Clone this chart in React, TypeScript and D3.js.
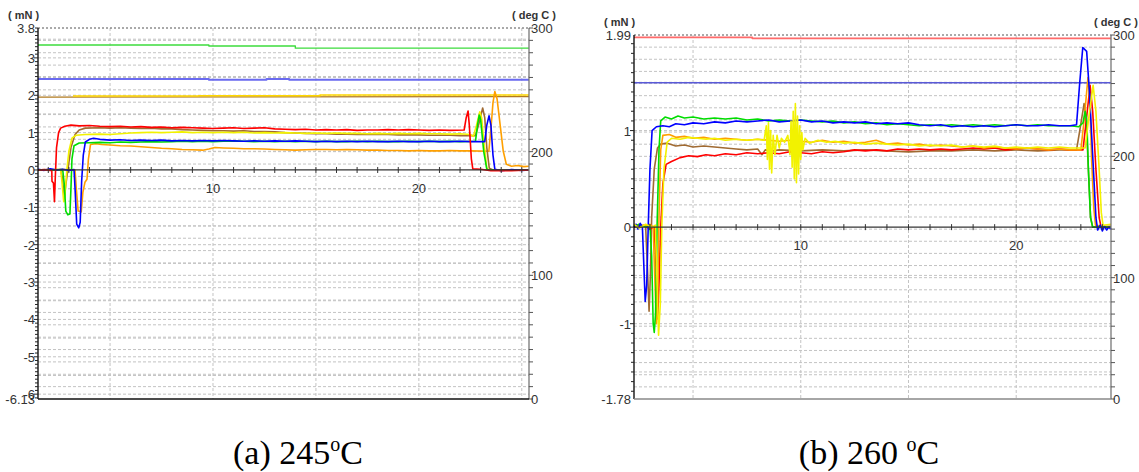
import React from 'react';
import * as d3 from 'd3';

// force traces, [time (s), force (mN)]
const aRed = [[1.5,0],[1.8,0.01],[2.1,-0.01],[2.17,-0.02],[2.18,-0.3],[2.25,-0.35],[2.3,-0.85],[2.34,-0.2],[2.4,0.6],[2.5,1.0],[2.6,1.12],[2.8,1.17],[3.1,1.2],[3.5,1.18],[4,1.19],[4.5,1.17],[5,1.16],[5.5,1.17],[6,1.15],[6.5,1.16],[7,1.14],[7.5,1.15],[8,1.13],[8.5,1.14],[9,1.13],[9.5,1.12],[10,1.11],[10.5,1.12],[11,1.13],[11.5,1.11],[12,1.12],[12.5,1.13],[13,1.1],[13.5,1.09],[14,1.08],[14.5,1.09],[15,1.07],[15.5,1.08],[16,1.07],[16.5,1.08],[17,1.06],[17.5,1.07],[18,1.07],[18.5,1.08],[19,1.07],[19.5,1.08],[20,1.07],[20.5,1.06],[21,1.07],[21.5,1.06],[22.2,1.07],[22.3,1.4],[22.39,1.58],[22.45,1.2],[22.55,0.3],[22.62,0.03],[23,0.02],[23.5,-0.02],[24,-0.01],[24.5,-0.02],[25.35,0]];
const aBrown = [[1.5,0],[2,0.01],[2.6,0],[2.68,-0.2],[2.78,-0.75],[2.85,-0.4],[2.95,0],[3.1,0.6],[3.3,0.95],[3.5,1.07],[3.8,1.12],[4.5,1.13],[5,1.12],[5.5,1.13],[6,1.12],[6.5,1.11],[7,1.12],[7.5,1.1],[8,1.1],[8.5,1.08],[9,1.07],[9.5,1.06],[10,1.05],[10.5,1.05],[11,1.04],[11.5,1.05],[12,1.03],[12.5,1.03],[13,1.02],[13.5,1.0],[14,0.99],[14.5,0.98],[15,0.97],[15.5,0.97],[16,0.96],[16.5,0.96],[17,0.95],[17.5,0.96],[18,0.95],[18.5,0.95],[19,0.94],[19.5,0.94],[20,0.94],[20.5,0.93],[21,0.93],[21.5,0.93],[22,0.92],[22.75,0.92],[22.9,1.2],[23.1,1.66],[23.2,1.4],[23.3,0.6],[23.42,0.05],[23.6,0],[25.35,0]];
const aYellow = [[1.5,0],[2.6,0.01],[2.66,-0.3],[2.75,-0.85],[2.82,-0.6],[2.9,0],[3.0,0.5],[3.15,0.85],[3.35,0.93],[3.8,0.95],[4.5,0.96],[5,0.95],[5.5,0.97],[6,0.99],[6.5,1.0],[7,1.01],[7.5,1.0],[8,1.01],[8.5,1.02],[9,1.0],[9.5,1.01],[10,1.0],[10.5,1.01],[11,1.0],[11.5,1.01],[12,0.99],[12.5,1.0],[13,0.99],[13.5,1.0],[14,0.99],[14.5,0.98],[15,0.99],[15.5,0.98],[16,0.99],[16.5,0.98],[17,0.98],[17.5,0.97],[18,0.98],[18.5,0.97],[19,0.98],[19.5,0.97],[20,0.98],[20.5,0.97],[21,0.97],[21.5,0.96],[22,0.97],[22.5,0.95],[22.65,0.9],[22.8,1.2],[22.96,1.56],[23.05,1.4],[23.15,0.8],[23.3,0.05],[23.4,0],[25.35,0]];
const aGreen = [[1.5,0],[2.7,0.01],[2.78,-0.4],[2.85,-1.1],[2.95,-1.2],[3.05,-1.18],[3.1,-0.5],[3.15,0.3],[3.25,0.65],[3.5,0.72],[4,0.73],[4.5,0.74],[5,0.73],[5.5,0.75],[6,0.74],[6.5,0.75],[7,0.76],[7.5,0.75],[8,0.76],[8.5,0.77],[9,0.76],[9.5,0.77],[10,0.76],[10.5,0.77],[11,0.78],[11.5,0.77],[12,0.76],[12.5,0.77],[13,0.76],[13.5,0.77],[14,0.76],[14.5,0.77],[15,0.76],[15.5,0.77],[16,0.76],[16.5,0.76],[17,0.77],[17.5,0.76],[18,0.77],[18.5,0.76],[19,0.76],[19.5,0.77],[20,0.76],[20.5,0.77],[21,0.76],[21.5,0.77],[22,0.76],[22.75,0.77],[22.85,1.2],[22.93,1.47],[23.0,1.35],[23.15,0.5],[23.3,0.02],[23.4,0],[25.35,0]];
const aBlue = [[1.5,0.02],[1.8,-0.01],[2.1,0.03],[2.4,0.0],[2.7,0.02],[3.0,-0.01],[3.25,0.01],[3.3,-0.5],[3.38,-1.45],[3.48,-1.55],[3.55,-1.4],[3.62,-0.3],[3.7,0.4],[3.8,0.75],[4.0,0.82],[4.2,0.85],[4.5,0.82],[5,0.8],[5.5,0.81],[6,0.79],[6.5,0.8],[7,0.79],[7.5,0.8],[8,0.78],[8.5,0.79],[9,0.78],[9.5,0.79],[10,0.78],[10.5,0.79],[11,0.78],[11.5,0.77],[12,0.78],[12.5,0.77],[13,0.78],[13.5,0.77],[14,0.78],[14.5,0.77],[15,0.76],[15.5,0.77],[16,0.76],[16.5,0.77],[17,0.76],[17.5,0.77],[18,0.76],[18.5,0.76],[19,0.77],[19.5,0.76],[20,0.76],[20.5,0.77],[21,0.76],[21.5,0.76],[22,0.77],[22.5,0.76],[23.2,0.76],[23.3,1.2],[23.41,1.45],[23.5,1.2],[23.6,0.4],[23.69,0.02],[24,-0.02],[24.5,0.01],[25,-0.01],[25.35,0]];
const aOrange = [[1.5,0],[3.0,0.01],[3.3,0],[3.36,-0.5],[3.45,-1.1],[3.6,-1.12],[3.68,-0.6],[3.78,-0.33],[3.88,-0.25],[3.95,0.3],[4.05,0.68],[4.3,0.7],[4.6,0.68],[5,0.67],[5.5,0.65],[6,0.64],[6.5,0.62],[7,0.6],[7.5,0.58],[8,0.57],[8.5,0.55],[9,0.54],[9.5,0.53],[9.8,0.56],[10.1,0.6],[10.5,0.59],[11,0.58],[11.5,0.57],[12,0.57],[12.5,0.56],[13,0.55],[13.5,0.54],[14,0.53],[14.5,0.54],[15,0.55],[15.5,0.55],[16,0.54],[16.5,0.55],[17,0.54],[17.5,0.53],[18,0.53],[18.5,0.52],[19,0.52],[19.5,0.51],[20,0.52],[20.5,0.51],[21,0.51],[21.5,0.52],[22,0.51],[22.5,0.51],[23.4,0.5],[23.5,1.1],[23.6,1.8],[23.69,2.1],[23.8,1.9],[23.95,1.2],[24.1,0.5],[24.25,0.15],[24.5,0.1],[24.8,0.12],[25.1,0.09],[25.35,0.1]];

// temperature traces, [time (s), deg C]
const aTempGreen = [[1.5,286.2],[9.8,286.2],[9.8,285.4],[14,285.4],[14,283.7],[25.35,283.7]];
const aTempBlue = [[1.5,258.8],[9.8,258.8],[9.8,258.1],[12.6,258.1],[12.6,258.7],[13.7,258.7],[13.7,258.1],[25.35,258.1]];
const aTempBrown = [[1.5,244.1],[25.35,244.5]];
const aTempYellow = [[3.2,245.0],[9.3,245.0],[9.3,245.2],[15.2,245.2],[15.2,245.8],[25.35,245.8]];

const bBlue = [[2.26,0.0],[2.35,0.03],[2.45,-0.02],[2.55,0.04],[2.65,0.0],[2.7,-0.3],[2.78,-0.77],[2.85,-0.6],[2.92,0],[3.0,0.6],[3.1,1.0],[3.3,1.04],[3.6,1.05],[3.9,1.04],[4.2,1.07],[4.6,1.06],[5,1.08],[5.5,1.07],[6,1.09],[6.5,1.08],[7,1.1],[7.5,1.09],[8,1.1],[8.5,1.11],[9,1.09],[9.5,1.1],[10,1.11],[10.5,1.09],[11,1.1],[11.5,1.08],[12,1.09],[12.5,1.08],[13,1.09],[13.5,1.07],[14,1.08],[14.5,1.07],[15,1.08],[15.5,1.06],[16,1.05],[16.5,1.06],[17,1.04],[17.5,1.05],[18,1.04],[18.5,1.05],[19,1.04],[19.5,1.05],[20,1.06],[20.5,1.05],[21,1.05],[21.5,1.06],[22,1.05],[22.5,1.05],[22.8,1.06],[22.95,1.5],[23.09,1.86],[23.27,1.82],[23.4,1.4],[23.56,0.7],[23.7,0.1],[23.78,-0.03],[23.9,0.02],[24.0,-0.04],[24.1,0.01],[24.2,-0.03],[24.3,0.0],[24.4,-0.02]];
const bGreen = [[2.26,0.01],[2.5,0.03],[2.8,0.0],[3.0,0.02],[3.08,-0.3],[3.15,-1.0],[3.2,-1.09],[3.26,-0.9],[3.33,0],[3.42,0.8],[3.5,1.1],[3.7,1.14],[4.0,1.12],[4.3,1.15],[4.6,1.13],[5,1.14],[5.5,1.12],[6,1.13],[6.5,1.12],[7,1.13],[7.5,1.11],[8,1.12],[8.5,1.1],[9,1.11],[9.5,1.1],[10,1.11],[10.5,1.1],[11,1.09],[11.5,1.1],[12,1.08],[12.5,1.09],[13,1.07],[13.5,1.08],[14,1.06],[14.5,1.07],[15,1.06],[15.5,1.05],[16,1.06],[16.5,1.05],[17,1.06],[17.5,1.05],[18,1.06],[18.5,1.05],[19,1.06],[19.5,1.05],[20,1.06],[20.5,1.05],[21,1.06],[21.5,1.05],[22,1.05],[22.5,1.05],[22.9,1.04],[23.1,1.08],[23.2,1.2],[23.28,1.1],[23.35,0.6],[23.45,0.1],[23.55,0.0],[24.4,0]];
const bBrown = [[2.26,0],[2.5,0.02],[2.8,0.01],[2.88,-0.4],[2.96,-0.87],[3.02,-0.5],[3.08,0.1],[3.2,0.6],[3.35,0.82],[3.5,0.86],[3.8,0.87],[4.2,0.84],[4.6,0.85],[5,0.83],[5.5,0.84],[6,0.83],[6.5,0.82],[7,0.81],[7.5,0.8],[8.0,0.81],[8.2,0.75],[8.35,0.8],[8.7,0.79],[9,0.8],[10,0.79],[11,0.8],[12,0.79],[13,0.8],[14,0.79],[15,0.78],[16,0.79],[17,0.79],[18,0.8],[19,0.79],[20,0.8],[21,0.79],[22,0.8],[22.8,0.8],[22.95,1.0],[23.15,1.28],[23.25,1.1],[23.35,0.6],[23.45,0.1],[23.55,0],[24.4,0]];
const bOrange = [[2.26,0.02],[2.6,0.0],[3.0,0.03],[3.15,0.0],[3.22,-0.5],[3.3,-1.0],[3.36,-0.7],[3.42,0.1],[3.5,0.8],[3.6,0.95],[3.9,0.96],[4.2,0.93],[4.6,0.94],[5,0.92],[5.5,0.93],[6,0.91],[6.5,0.92],[7,0.91],[7.5,0.9],[8,0.91],[8.5,0.9],[9,0.89],[9.5,0.9],[10,0.89],[10.5,0.88],[11,0.9],[11.5,0.88],[12,0.89],[12.5,0.87],[13,0.88],[13.5,0.9],[14,0.86],[14.5,0.87],[15,0.85],[15.5,0.86],[16,0.84],[16.5,0.85],[17,0.84],[17.5,0.83],[18,0.84],[18.5,0.82],[19,0.83],[19.5,0.82],[20,0.81],[20.5,0.82],[21,0.81],[21.5,0.8],[22,0.81],[22.5,0.8],[23.0,0.8],[23.15,1.1],[23.33,1.55],[23.42,1.3],[23.5,0.7],[23.6,0.2],[23.68,0.02],[24.4,0]];
const bRed = [[2.26,0.0],[2.7,0.02],[3.0,-0.02],[3.2,0.0],[3.28,-0.4],[3.36,-0.95],[3.42,-0.6],[3.5,0.0],[3.6,0.45],[3.75,0.65],[4.0,0.68],[4.4,0.72],[4.8,0.74],[5.2,0.73],[5.6,0.75],[6,0.74],[6.5,0.76],[7,0.75],[7.5,0.77],[8,0.76],[8.5,0.77],[9,0.76],[9.5,0.78],[10,0.77],[10.5,0.76],[11,0.78],[11.5,0.77],[12,0.78],[12.5,0.8],[13,0.79],[13.5,0.8],[14,0.79],[14.5,0.81],[15,0.8],[15.5,0.81],[16,0.8],[16.5,0.81],[17,0.8],[17.5,0.81],[18,0.82],[18.5,0.81],[19,0.82],[19.5,0.8],[20,0.81],[20.5,0.82],[21,0.81],[21.5,0.8],[22,0.81],[22.5,0.8],[23.1,0.8],[23.25,1.1],[23.43,1.47],[23.55,1.2],[23.7,0.6],[23.85,0.1],[23.94,0.0],[24.4,0.01]];
const bYellow = [[2.26,0.03],[2.5,-0.01],[2.8,0.03],[3.1,0.0],[3.25,0.02],[3.32,-0.5],[3.4,-1.12],[3.48,-0.8],[3.55,0.0],[3.65,0.6],[3.8,0.88],[4.0,0.92],[4.4,0.91],[4.8,0.93],[5.2,0.92],[5.6,0.91],[6,0.92],[6.5,0.9],[7,0.91],[7.5,0.9],[8,0.91],[8.3,0.9],[8.4,1.05],[8.45,0.7],[8.5,1.08],[8.55,0.6],[8.6,1.0],[8.65,0.56],[8.72,0.95],[8.8,0.75],[8.9,0.95],[9.0,0.82],[9.1,0.92],[9.25,0.88],[9.4,0.95],[9.5,0.75],[9.55,1.1],[9.6,0.62],[9.65,1.2],[9.7,0.5],[9.75,1.28],[9.8,0.46],[9.85,1.15],[9.9,0.55],[9.95,1.05],[10.0,0.7],[10.05,0.98],[10.1,0.8],[10.2,0.92],[10.4,0.87],[10.8,0.9],[11.2,0.88],[11.6,0.89],[12,0.87],[12.5,0.88],[13,0.86],[13.5,0.87],[14,0.86],[14.5,0.85],[15,0.86],[15.5,0.84],[16,0.85],[16.5,0.84],[17,0.85],[17.5,0.83],[18,0.84],[18.5,0.83],[19,0.84],[19.5,0.82],[20,0.83],[20.5,0.82],[21,0.83],[21.5,0.82],[22,0.83],[22.5,0.82],[23.2,0.82],[23.35,1.1],[23.57,1.47],[23.7,1.2],[23.85,0.6],[23.95,0.15],[24.03,0.02],[24.4,0.03]];

const bTempRed = [[2.26,298.1],[7.75,298.1],[7.75,297.3],[24.4,297.3]];
const bTempBlue = [[2.26,260.7],[24.4,260.7]];

const aForceLabels = [3.8, 3, 2, 1, 0, -1, -2, -3, -4, -5, -6, -6.13];
const bForceLabels = [1.99, 1, 0, -1, -1.78];
const tempLabels = [300, 200, 100, 0];
const timeLabels = [10, 20];

type Pt = number[];
type Series = { data: Pt[]; color: string; width?: number; temp?: boolean };

const Panel = ({ left, right, top, bottom, xDomain, yDomain, yLabels, series, bottomColor }: {
  left: number; right: number; top: number; bottom: number;
  xDomain: number[]; yDomain: number[]; yLabels: number[];
  series: Series[]; bottomColor: string;
}) => {
  const x = d3.scaleLinear().domain(xDomain).range([left, right]);
  const y = d3.scaleLinear().domain(yDomain).range([bottom, top]);
  const yt = d3.scaleLinear().domain([0, 300]).range([bottom, top]);
  const line = (sc: d3.ScaleLinear<number, number>) =>
    d3.line<Pt>().x(d => x(d[0])).y(d => sc(d[1]));
  const y0 = y(0);
  const grid = '#c3c3c3';
  const font = 'Arial, Liberation Sans, sans-serif';

  const tempGrid = d3.range(10, 300, 10);
  const forceGrid = d3.range(Math.ceil(yDomain[0] * 2) / 2, yDomain[1], 0.5).filter(v => Math.abs(v) > 1e-6);
  const timeGrid = d3.range(5, xDomain[1], 5).filter(v => v > xDomain[0]);
  const secTicks = d3.range(Math.ceil(xDomain[0]), xDomain[1], 1);
  const minor = d3.range(Math.ceil(yDomain[0] * 10), Math.floor(yDomain[1] * 10) + 1).map(v => v / 10);
  const mid = (left + right) / 2;

  return (
    <g>
      {tempGrid.map(v => (
        <line key={'t' + v} x1={left} x2={right} y1={yt(v)} y2={yt(v)} stroke={grid} strokeDasharray="3,2" />
      ))}
      {forceGrid.map(v => (
        <line key={'f' + v} x1={left} x2={right} y1={y(v)} y2={y(v)} stroke={grid} strokeDasharray="3,2" />
      ))}
      {timeGrid.map(v => (
        <line key={'s' + v} x1={x(v)} x2={x(v)} y1={top} y2={bottom} stroke={grid} strokeDasharray="3,2" />
      ))}
      <line x1={left} x2={right} y1={top} y2={top} stroke="#555" strokeDasharray="2,2" />

      {series.map((s, i) => (
        <path key={i} d={line(s.temp ? yt : y)(s.data) || ''} fill="none" stroke={s.color}
          strokeWidth={s.width || 1.6} strokeLinejoin="round" />
      ))}

      {/* zero line with second ticks */}
      <line x1={left} x2={right} y1={y0} y2={y0} stroke="#333" strokeWidth={1.3} />
      {secTicks.map(v => (
        <line key={'k' + v} x1={x(v)} x2={x(v)} y1={y0 - 3} y2={y0 + 3} stroke="#333" />
      ))}
      {timeLabels.map(v => (
        <text key={'l' + v} x={x(v)} y={y0 + 23} textAnchor="middle" fontFamily={font} fontSize={13} fill="#333">{v}</text>
      ))}

      {/* left axis */}
      <line x1={left} x2={left} y1={top} y2={bottom} stroke="#000" strokeWidth={1.3} />
      {minor.map(v => (
        <line key={'m' + v} x1={left - (Number.isInteger(v) ? 4 : 3)} x2={left} y1={y(v)} y2={y(v)} stroke="#222" />
      ))}
      {yLabels.map(v => (
        <text key={'y' + v} x={left - 3} y={y(v) + 5} textAnchor="end" fontFamily={font} fontSize={13} fill="#333">{v}</text>
      ))}
      <text x={left - 30} y={top - 9} fontFamily={font} fontSize={11} fontWeight="bold" fill="#333">( mN )</text>

      {/* right axis */}
      <line x1={right} x2={right} y1={top} y2={bottom} stroke="#777" strokeWidth={1.3} />
      {d3.range(0, 301, 10).map(v => (
        <line key={'r' + v} x1={right} x2={right + 4} y1={yt(v)} y2={yt(v)} stroke="#555" />
      ))}
      {tempLabels.map(v => (
        <text key={'rl' + v} x={right + 2} y={yt(v) + 5} fontFamily={font} fontSize={13} fill="#333">{v}</text>
      ))}
      <text x={right + 27} y={top - 9} textAnchor="end" fontFamily={font} fontSize={11} fontWeight="bold" fill="#333">( deg C )</text>

      <line x1={left} x2={right} y1={bottom} y2={bottom} stroke={bottomColor} strokeWidth={1.3} />

      {/* time unit label, mostly hidden under the caption */}
      <clipPath id={'clip' + left}>
        <rect x={mid - 30} y={bottom + 19} width={60} height={4} />
      </clipPath>
      <text x={mid} y={bottom + 31} textAnchor="middle" fontFamily={font} fontSize={11} fontWeight="bold"
        fill="#666" clipPath={`url(#clip${left})`}>( s )</text>
    </g>
  );
};

const Caption = ({ cx, label, temp, gap }: { cx: number; label: string; temp: string; gap: boolean }) => (
  <text x={cx} y={464} textAnchor="middle" fontFamily="Liberation Serif, Times New Roman, serif" fontSize={34} fill="#000">
    <tspan>{label} {temp}{gap ? ' ' : ''}</tspan>
    <tspan dy={-13} fontSize={20}>o</tspan>
    <tspan dy={13}>C</tspan>
  </text>
);

export default function App() {
  const seriesA: Series[] = [
    { data: aTempGreen, color: '#3ddc3d', temp: true, width: 1.4 },
    { data: aTempBlue, color: '#6a6af0', temp: true, width: 2 },
    { data: aTempBrown, color: '#b07a20', temp: true, width: 1.4 },
    { data: aTempYellow, color: '#ffd800', temp: true },
    { data: aOrange, color: '#ffa000' },
    { data: aBrown, color: '#a06a32' },
    { data: aYellow, color: '#f2f200' },
    { data: aGreen, color: '#00dd00' },
    { data: aBlue, color: '#0000ff' },
    { data: aRed, color: '#ff0000' },
  ];
  const seriesB: Series[] = [
    { data: bTempRed, color: '#ff6a6a', temp: true, width: 1.8 },
    { data: bTempBlue, color: '#5a5ad8', temp: true, width: 1.6 },
    { data: bBrown, color: '#a06a32' },
    { data: bRed, color: '#ff0000' },
    { data: bOrange, color: '#ffa000' },
    { data: bGreen, color: '#00dd00' },
    { data: bBlue, color: '#0000ff' },
    { data: bYellow, color: '#f2f200' },
  ];
  return (
    <svg width={1139} height={472} style={{ position: 'absolute', left: 0, top: 0, background: '#fff' }}>
      <Panel left={38} right={529} top={28} bottom={399} xDomain={[1.5, 25.35]} yDomain={[-6.13, 3.8]}
        yLabels={aForceLabels} series={seriesA} bottomColor="#111" />
      <Panel left={634} right={1111} top={35} bottom={399} xDomain={[2.26, 24.4]} yDomain={[-1.78, 1.99]}
        yLabels={bForceLabels} series={seriesB} bottomColor="#888" />
      <Caption cx={298} label="(a)" temp="245" gap={false} />
      <Caption cx={869} label="(b)" temp="260" gap={true} />
    </svg>
  );
}
